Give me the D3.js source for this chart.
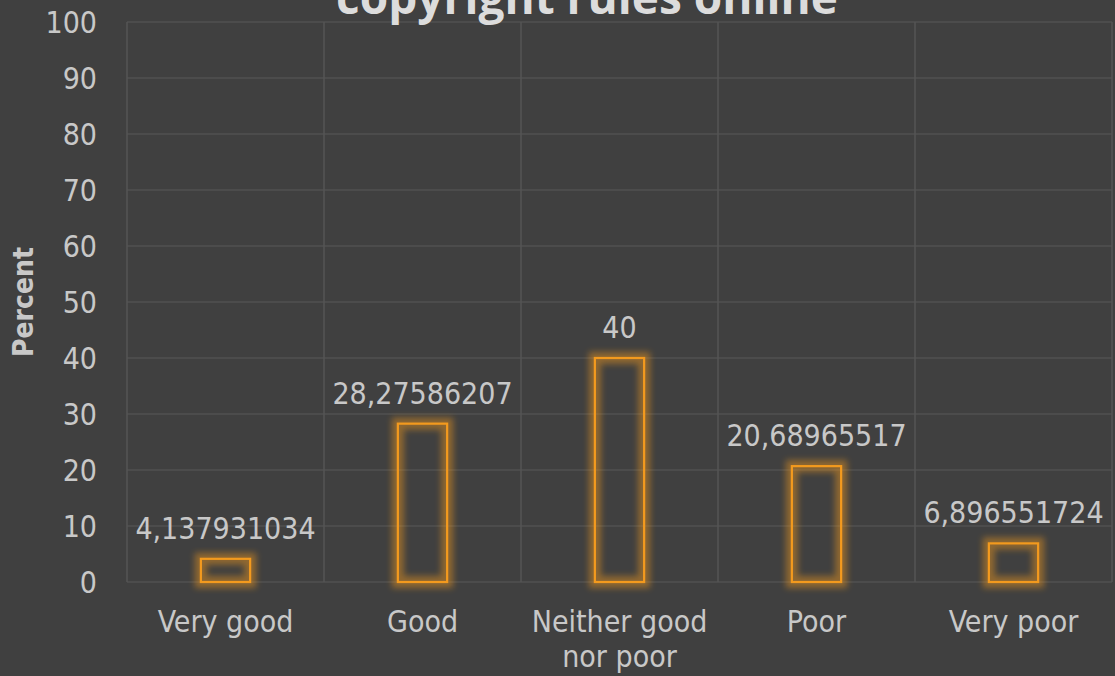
<!DOCTYPE html>
<meta charset="utf-8">
<head>
<script src="https://cdn.jsdelivr.net/npm/d3@7"></script>
<style>
body { margin: 0; background: #404040; }
svg { display: block; }
text { font-family: "DejaVu Sans Condensed", "DejaVu Sans", sans-serif; }
</style>
</head>
<body>
<div id="chart"></div>

<script>
// data
var categories = ["Very good", "Good", "Neither good nor poor", "Poor", "Very poor"];
var values = [4.137931034, 28.27586207, 40, 20.68965517, 6.896551724];
var yTicks = [0, 10, 20, 30, 40, 50, 60, 70, 80, 90, 100];
var titleText = "copyright rules online";
var yTitle = "Percent";

var W = 1115, H = 676;
var m = {top: 22, right: 3, bottom: 94, left: 127};

var svg = d3.select("#chart").append("svg")
    .attr("width", W)
    .attr("height", H);

svg.append("rect").attr("width", W).attr("height", H).attr("fill", "#404040");

var defs = svg.append("defs");
defs.append("filter").attr("id", "glow")
    .attr("x", "-50%").attr("y", "-50%").attr("width", "200%").attr("height", "200%")
  .append("feGaussianBlur").attr("stdDeviation", 3);

var x = d3.scaleBand()
    .domain(categories)
    .range([m.left, W - m.right])
    .paddingInner(0.75)
    .paddingOuter(0.375);

var y = d3.scaleLinear()
    .domain([0, 100])
    .range([H - m.bottom, m.top]);

// gridlines
var grid = svg.append("g");
grid.selectAll("line.h")
  .data(yTicks)
  .enter().append("line")
    .attr("x1", m.left).attr("x2", W - m.right)
    .attr("y1", function(d) { return y(d); })
    .attr("y2", function(d) { return y(d); })
    .attr("stroke", "#505050")
    .attr("stroke-width", 1.5);

var step = x.step();
var vx = d3.range(categories.length + 1).map(function(i) { return m.left + i * step; });
grid.selectAll("line.v")
  .data(vx)
  .enter().append("line")
    .attr("x1", function(d) { return d; }).attr("x2", function(d) { return d; })
    .attr("y1", m.top).attr("y2", H - m.bottom)
    .attr("stroke", "#555555")
    .attr("stroke-width", 1.5);

// y axis
var yAxis = svg.append("g")
    .attr("transform", "translate(" + (m.left - 30) + ",0)")
    .call(d3.axisLeft(y).tickValues(yTicks).tickSize(0).tickPadding(0));
yAxis.select(".domain").remove();
yAxis.selectAll("text")
    .attr("fill", "#c8c8c8")
    .style("font-size", "30px")
    .attr("dy", "0.36em");

// x axis
var xAxis = svg.append("g")
    .attr("transform", "translate(0," + (H - m.bottom) + ")")
    .call(d3.axisBottom(x).tickSize(0).tickPadding(0));
xAxis.select(".domain").remove();
xAxis.selectAll("text")
    .attr("fill", "#c8c8c8")
    .style("font-size", "30px")
    .attr("y", 50)
    .attr("dy", 0)
    .call(wrap, step - 8);

function wrap(sel, width) {
  sel.each(function() {
    var t = d3.select(this),
        words = t.text().split(/\s+/),
        line = [], lines = [];
    t.text(null);
    var ts = t.append("tspan").attr("x", 0);
    words.forEach(function(w) {
      line.push(w);
      ts.text(line.join(" "));
      if (ts.node().getComputedTextLength() > width && line.length > 1) {
        line.pop();
        lines.push(line.join(" "));
        line = [w];
        ts.text(w);
      }
    });
    lines.push(line.join(" "));
    t.text(null);
    lines.forEach(function(l, i) {
      t.append("tspan").attr("x", 0).attr("dy", i ? 35 : 0).text(l);
    });
  });
}

// bars
var bars = svg.append("g");
bars.selectAll("rect.glow")
  .data(values)
  .enter().append("rect")
    .attr("x", function(d, i) { return x(categories[i]); })
    .attr("y", function(d) { return y(d); })
    .attr("width", x.bandwidth())
    .attr("height", function(d) { return y(0) - y(d); })
    .attr("fill", "none")
    .attr("stroke", "#f39a1e")
    .attr("stroke-width", 12)
    .attr("opacity", 0.45)
    .attr("filter", "url(#glow)");

bars.selectAll("rect.bar")
  .data(values)
  .enter().append("rect")
    .attr("x", function(d, i) { return x(categories[i]); })
    .attr("y", function(d) { return y(d); })
    .attr("width", x.bandwidth())
    .attr("height", function(d) { return y(0) - y(d); })
    .attr("fill", "none")
    .attr("stroke", "#f39a1e")
    .attr("stroke-width", 2.2);

// data labels
svg.append("g").selectAll("text")
  .data(values)
  .enter().append("text")
    .attr("x", function(d, i) { return x(categories[i]) + x.bandwidth() / 2; })
    .attr("y", function(d) { return y(d) - 20; })
    .attr("text-anchor", "middle")
    .attr("fill", "#c8c8c8")
    .style("font-size", "30px")
    .text(function(d) { return String(d).replace(".", ","); });

// axis title
svg.append("text")
    .attr("transform", "translate(33,302) rotate(-90)")
    .attr("text-anchor", "middle")
    .attr("fill", "#c8c8c8")
    .style("font-size", "28px")
    .style("font-weight", "bold")
    .text(yTitle);

// chart title (top of it runs off the page, as in the original)
svg.append("text")
    .attr("x", 587)
    .attr("y", 14)
    .attr("text-anchor", "middle")
    .attr("fill", "#dcdcdc")
    .style("font-family", "'Open Sans', sans-serif")
    .style("font-size", "46px")
    .style("font-weight", "bold")
    .text(titleText);
</script>
</body>
